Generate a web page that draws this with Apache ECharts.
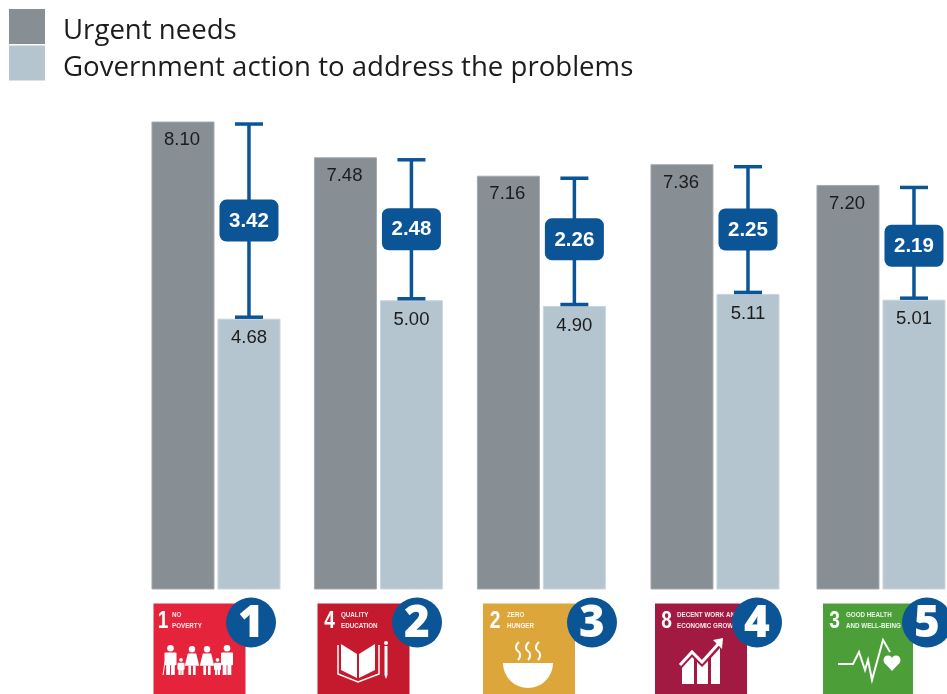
<!DOCTYPE html>
<html>
<head>
<meta charset="utf-8">
<style>
  html, body { margin: 0; padding: 0; background: #fff; }
  #main { width: 947px; height: 694px; overflow: hidden; }
</style>
<script src="https://cdn.jsdelivr.net/npm/echarts@6/dist/echarts.min.js"></script>
</head>
<body>
<div id="main"></div>
<script>
var categories = ['No poverty', 'Quality education', 'Zero hunger', 'Decent work and economic growth', 'Good health and well-being'];
var urgentNeeds = [8.10, 7.48, 7.16, 7.36, 7.00];   // 5th bar is drawn shorter than its printed label
var urgentLabels = ['8.10', '7.48', '7.16', '7.36', '7.20'];
var governmentAction = [4.68, 5.00, 4.90, 5.11, 5.01];
var actionLabels = ['4.68', '5.00', '4.90', '5.11', '5.01'];
var gaps = ['3.42', '2.48', '2.26', '2.25', '2.19'];
var ranks = ['1', '2', '3', '4', '5'];
var goalNumbers = ['1', '4', '2', '8', '3'];
var goalLine1 = ['NO', 'QUALITY', 'ZERO', 'DECENT WORK AND', 'GOOD HEALTH'];
var goalLine2 = ['POVERTY', 'EDUCATION', 'HUNGER', 'ECONOMIC GROWTH', 'AND WELL-BEING'];

// layout only
var groupNudge = [0, 0, 0.5, 11.65, 15.2];
var pillNudge = [0, 0, -2, 0, 3];
var tileLeft = [153.5, 317.5, 483, 655, 823];
var tileWidth = [92, 92, 92, 92, 90];
var digitOffset = [9.5, 12, 12, 11.5, 11.5];
var titleOffset = [18.5, 23.5, 24, 22, 23];
var badgeX = [251, 417, 592, 757, 927];
var goalColors = ['#E5243B', '#C5192D', '#DDA63A', '#A21942', '#4C9F38'];
var BLUE = '#0B5596';
var TILE_TOP = 603.5;

var myChart = echarts.init(document.getElementById('main'));

function barItem(side, labels) {
  return function (params, api) {
    var i = api.value(0);
    var p = api.coord([i, api.value(1)]);
    var base = api.coord([i, 0]);
    var x = p[0] + groupNudge[i] + (side < 0 ? -64 : 2);
    return {
      type: 'group',
      children: [
        { type: 'rect', shape: { x: x, y: p[1], width: 62, height: base[1] - p[1] },
          style: { fill: api.visual('color'), stroke: side < 0 ? '#A3A9AD' : '#C9D5DD', lineWidth: 1 } },
        { type: 'text', style: { x: x + (side < 0 ? 30 : 31), y: p[1] + (side < 0 ? 18 : 19), text: labels[i], fill: '#1c1c1c',
          font: '18.5px "Liberation Sans"', align: 'center', verticalAlign: 'middle' } }
      ]
    };
  };
}

function gapItem(params, api) {
  var i = api.value(0);
  var top = api.coord([i, api.value(1)]);
  var bot = api.coord([i, api.value(2)]);
  var x = top[0] + groupNudge[i] + 33;
  var y1 = top[1] + 2, y2 = bot[1] - 2;
  var mid = (y1 + y2) / 2 + pillNudge[i];
  var line = { stroke: BLUE, lineWidth: 3.5 };
  return {
    type: 'group',
    children: [
      { type: 'line', shape: { x1: x, y1: y1, x2: x, y2: y2 }, style: line },
      { type: 'line', shape: { x1: x - 14, y1: y1, x2: x + 14, y2: y1 }, style: line },
      { type: 'line', shape: { x1: x - 14, y1: y2, x2: x + 14, y2: y2 }, style: line },
      { type: 'rect', shape: { x: x - 29.5, y: mid - 21, width: 59, height: 42, r: 7 }, style: { fill: BLUE } },
      { type: 'text', style: { x: x, y: mid + 0.5, text: gaps[i], fill: '#fff',
        font: 'bold 20.5px "Liberation Sans"', align: 'center', verticalAlign: 'middle' } }
    ]
  };
}

// pictograms on the goal tiles, white on colour
function wFill(el) { el.style = { fill: '#fff' }; el.z = 3; return el; }
function wLine(el, w) { el.style = { stroke: '#fff', fill: 'none', lineWidth: w || 2 }; el.z = 3; return el; }

function person(cx, top, bottom, w, dress) {
  var h = bottom - top, r = h * 0.11;
  var y0 = top + 2 * r + 1;
  var out = [wFill({ type: 'circle', shape: { cx: cx, cy: top + r, r: r } })];
  if (dress) {
    out.push(wFill({ type: 'polygon', shape: { points: [[cx - w * 0.35, y0], [cx + w * 0.35, y0], [cx + w * 0.6, top + h * 0.68], [cx - w * 0.6, top + h * 0.68]] } }));
    out.push(wFill({ type: 'rect', shape: { x: cx - w * 0.3, y: top + h * 0.68, width: w * 0.22, height: h * 0.32 } }));
    out.push(wFill({ type: 'rect', shape: { x: cx + w * 0.08, y: top + h * 0.68, width: w * 0.22, height: h * 0.32 } }));
  } else {
    out.push(wFill({ type: 'rect', shape: { x: cx - w * 0.5, y: y0, width: w, height: h * 0.42, r: 1 } }));
    out.push(wFill({ type: 'rect', shape: { x: cx - w * 0.36, y: y0 + h * 0.4, width: w * 0.32, height: bottom - y0 - h * 0.4 } }));
    out.push(wFill({ type: 'rect', shape: { x: cx + w * 0.04, y: y0 + h * 0.4, width: w * 0.32, height: bottom - y0 - h * 0.4 } }));
  }
  return out;
}

function icons() {
  var a = [];
  // family
  a = a.concat(person(170.5, 645, 675, 12, false), person(181, 658, 675, 7, false),
    person(192, 646, 675, 12, true), person(207, 646, 675, 12, true),
    person(217.5, 658, 675, 7, false), person(227, 645, 675, 12, false));
  a.push(wLine({ type: 'line', shape: { x1: 165, y1: 662, x2: 163, y2: 675 } }, 1));
  // book and pencil
  a.push(wFill({ type: 'polygon', shape: { points: [[341, 644], [357, 654], [357, 678], [341, 670]] } }));
  a.push(wFill({ type: 'polygon', shape: { points: [[375, 644], [359, 654], [359, 678], [375, 670]] } }));
  a.push(wLine({ type: 'polyline', shape: { points: [[338, 645], [338, 674], [358, 682], [379, 674], [379, 645]] } }, 1.5));
  a.push(wFill({ type: 'rect', shape: { x: 384.5, y: 646, width: 3, height: 29 } }));
  a.push(wFill({ type: 'circle', shape: { cx: 386, cy: 643, r: 2 } }));
  a.push(wFill({ type: 'polygon', shape: { points: [[384.5, 675], [387.5, 675], [386, 679]] } }));
  // bowl and steam
  a.push(wFill({ type: 'sector', shape: { cx: 528, cy: 663, r0: 0, r: 25, startAngle: 0, endAngle: Math.PI } }));
  [518, 528, 538].forEach(function (x) {
    a.push(wLine({ type: 'polyline', shape: { smooth: 0.6, points: [[x + 1, 642], [x - 2, 648], [x + 2, 654], [x, 660]] } }, 2));
  });
  // growth chart
  a.push(wFill({ type: 'polygon', shape: { points: [[682, 668], [692, 657], [694, 659], [694, 684], [682, 684]] } }));
  a.push(wFill({ type: 'polygon', shape: { points: [[697, 662], [702, 667], [708, 661], [708, 684], [697, 684]] } }));
  a.push(wFill({ type: 'polygon', shape: { points: [[711, 658], [720, 648], [720, 684], [711, 684]] } }));
  a.push(wLine({ type: 'polyline', shape: { points: [[680, 665], [692, 652], [702, 662], [720, 642]] } }, 3));
  a.push(wFill({ type: 'polygon', shape: { points: [[723, 638], [713, 640], [722, 649]] } }));
  // heartbeat
  a.push(wLine({ type: 'polyline', shape: { points: [[838, 664], [853, 664], [859, 652], [865, 670], [868, 660], [872, 680], [883, 640], [890, 652]] } }, 2));
  a.push(wFill({ type: 'circle', shape: { cx: 888, cy: 660, r: 4.5 } }));
  a.push(wFill({ type: 'circle', shape: { cx: 896, cy: 660, r: 4.5 } }));
  a.push(wFill({ type: 'polygon', shape: { points: [[884, 662.5], [900, 662.5], [892, 671]] } }));
  return a;
}

function tiles() {
  var out = [];
  for (var i = 0; i < goalNumbers.length; i++) {
    var x = tileLeft[i];
    out.push({ type: 'rect', z: 2, shape: { x: x, y: TILE_TOP, width: tileWidth[i], height: 694 - TILE_TOP }, style: { fill: goalColors[i] } });
    out.push({ type: 'text', z: 4, x: x + digitOffset[i], y: 621.5, scaleX: 0.8, style: { text: goalNumbers[i], fill: '#fff',
      font: 'bold 24px "Liberation Sans"', align: 'center', verticalAlign: 'middle' } });
    out.push({ type: 'text', z: 4, x: x + titleOffset[i], y: 615, scaleX: 0.78, style: { text: goalLine1[i], fill: 'rgba(255,255,255,0.9)',
      font: 'bold 8px "Liberation Sans"', verticalAlign: 'middle' } });
    out.push({ type: 'text', z: 4, x: x + titleOffset[i], y: 626, scaleX: 0.78, style: { text: goalLine2[i], fill: 'rgba(255,255,255,0.9)',
      font: 'bold 8px "Liberation Sans"', verticalAlign: 'middle' } });
    out.push({ type: 'circle', z: 5, shape: { cx: badgeX[i], cy: 622.5, r: 25 }, style: { fill: BLUE } });
    out.push({ type: 'text', z: 6, x: badgeX[i], y: 624, style: { text: ranks[i], fill: '#fff',
      font: '800 44px "Open Sans"', align: 'center', verticalAlign: 'middle' } });
  }
  return out.concat(icons());
}

function seriesData(values) {
  return values.map(function (v, i) { return [i, v]; });
}

var option = {
  backgroundColor: '#fff',
  animation: false,
  legend: {
    data: ['Urgent needs', 'Government action to address the problems'],
    orient: 'vertical',
    left: 4,
    top: 4,
    icon: 'rect',
    itemWidth: 36,
    itemHeight: 35,
    itemGap: 0,
    selectedMode: false,
    formatter: function (name) { return '{t|' + name + '}'; },
    textStyle: {
      rich: { t: { color: '#1c1c1c', fontFamily: 'Open Sans', fontSize: 27.6, padding: [10, 0, 0, 13] } }
    }
  },
  grid: { left: 134.75, right: 0, top: 12.5, bottom: 105 },
  xAxis: { type: 'category', data: categories, show: false },
  yAxis: { type: 'value', min: 0, max: 10, show: false },
  graphic: { elements: tiles() },
  series: [
    { name: 'Urgent needs', type: 'custom', clip: false, itemStyle: { color: '#878E94' },
      renderItem: barItem(-1, urgentLabels), data: seriesData(urgentNeeds) },
    { name: 'Government action to address the problems', type: 'custom', clip: false, itemStyle: { color: '#B5C5D0' },
      renderItem: barItem(1, actionLabels), data: seriesData(governmentAction) },
    { name: 'Gap', type: 'custom', clip: false, z: 3, renderItem: gapItem,
      data: urgentNeeds.map(function (v, i) { return [i, v, governmentAction[i]]; }) }
  ]
};

myChart.setOption(option);
</script>
</body>
</html>
